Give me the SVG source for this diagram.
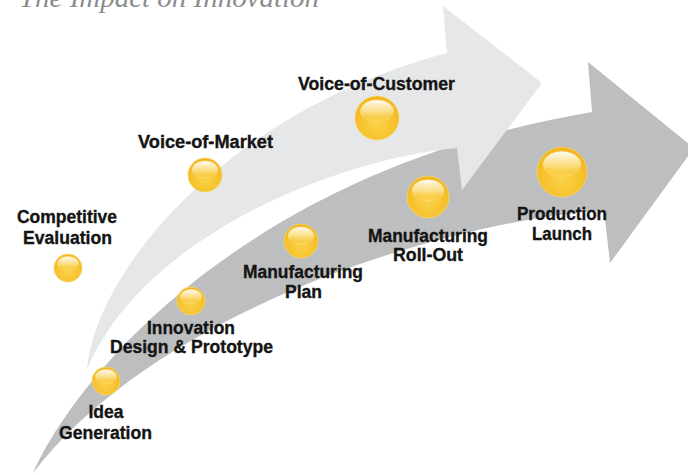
<svg xmlns="http://www.w3.org/2000/svg" width="688" height="475" viewBox="0 0 688 475">
  <defs>
    <radialGradient id="ballFill" cx="0.5" cy="0.62" r="0.6">
      <stop offset="0" stop-color="#fbd24a"/>
      <stop offset="0.7" stop-color="#f6c12c"/>
      <stop offset="1" stop-color="#f0b41e"/>
    </radialGradient>
    <linearGradient id="shine" x1="0" y1="0" x2="0" y2="1">
      <stop offset="0" stop-color="#ffffff" stop-opacity="0.95"/>
      <stop offset="0.55" stop-color="#fce9a6" stop-opacity="0.7"/>
      <stop offset="1" stop-color="#f8c840" stop-opacity="0"/>
    </linearGradient>
    <style>
      .ball { fill: url(#ballFill); stroke: #f9d56a; stroke-width: 0.8; }
      .shine { fill: url(#shine); stroke: #fde7a0; stroke-width: 0.6; stroke-opacity: 0.7; }
      .lbl { font-family: "Liberation Sans Narrow", "Liberation Sans", Arial, sans-serif; font-weight: bold; font-size: 18px; fill: #141414; stroke: #141414; stroke-width: 0.35; text-anchor: middle; }
      .title { font-family: "Liberation Serif", "Times New Roman", serif; font-style: italic; font-size: 28px; fill: #8a8c8e; }
    </style>
  </defs>
  <text class="title" x="19" y="7" textLength="300" lengthAdjust="spacingAndGlyphs">The Impact on Innovation</text>
  <g id="connectors">
    <path id="arrow-dark" fill="#bcbec0" d="M 33 473 C 80 370, 250 170, 592 112 L 588 62 L 694 148 L 610 263 L 604 210 C 420 225, 150 320, 33 473 Z"/>
    <path id="arrow-light" fill="#e6e7e8" d="M 87 370 C 95 270, 230 110, 447 53 L 443 6 L 542 83 L 462 190 L 457 148 C 330 160, 140 240, 87 370 Z"/>
  </g>
  <g id="competitive-evaluation">
    <circle class="ball" cx="68" cy="268" r="14"/>
    <ellipse class="shine" cx="68" cy="263.5" rx="10.5" ry="7"/>
    <text class="lbl" x="67" y="223" textLength="100" lengthAdjust="spacingAndGlyphs">Competitive</text>
    <text class="lbl" x="67.5" y="244" textLength="89" lengthAdjust="spacingAndGlyphs">Evaluation</text>
  </g>
  <g id="voice-of-market">
    <circle class="ball" cx="205" cy="175" r="17"/>
    <ellipse class="shine" cx="205" cy="169.5" rx="12.8" ry="8.5"/>
    <text class="lbl" x="205.5" y="148" textLength="135" lengthAdjust="spacingAndGlyphs">Voice-of-Market</text>
  </g>
  <g id="voice-of-customer">
    <circle class="ball" cx="377" cy="118" r="22"/>
    <ellipse class="shine" cx="377" cy="111" rx="16.5" ry="11"/>
    <text class="lbl" x="376.5" y="90" textLength="157" lengthAdjust="spacingAndGlyphs">Voice-of-Customer</text>
  </g>
  <g id="idea-generation">
    <circle class="ball" cx="106" cy="381" r="14"/>
    <ellipse class="shine" cx="106" cy="376.5" rx="10.5" ry="7"/>
    <text class="lbl" x="106" y="418" textLength="35" lengthAdjust="spacingAndGlyphs">Idea</text>
    <text class="lbl" x="105.5" y="439" textLength="93" lengthAdjust="spacingAndGlyphs">Generation</text>
  </g>
  <g id="innovation-design">
    <circle class="ball" cx="191" cy="301" r="14"/>
    <ellipse class="shine" cx="191" cy="296.5" rx="10.5" ry="7"/>
    <text class="lbl" x="191" y="334" textLength="88" lengthAdjust="spacingAndGlyphs">Innovation</text>
    <text class="lbl" x="191.5" y="353" textLength="163" lengthAdjust="spacingAndGlyphs">Design &amp; Prototype</text>
  </g>
  <g id="manufacturing-plan">
    <circle class="ball" cx="301" cy="241" r="17"/>
    <ellipse class="shine" cx="301" cy="235.5" rx="12.8" ry="8.5"/>
    <text class="lbl" x="303" y="278" textLength="120" lengthAdjust="spacingAndGlyphs">Manufacturing</text>
    <text class="lbl" x="303.5" y="298" textLength="37" lengthAdjust="spacingAndGlyphs">Plan</text>
  </g>
  <g id="manufacturing-rollout">
    <circle class="ball" cx="428" cy="197" r="21"/>
    <ellipse class="shine" cx="428" cy="190.3" rx="15.8" ry="10.5"/>
    <text class="lbl" x="428" y="242" textLength="120" lengthAdjust="spacingAndGlyphs">Manufacturing</text>
    <text class="lbl" x="428" y="261" textLength="70" lengthAdjust="spacingAndGlyphs">Roll-Out</text>
  </g>
  <g id="production-launch">
    <circle class="ball" cx="562" cy="172" r="25"/>
    <ellipse class="shine" cx="562" cy="164" rx="18.8" ry="12.5"/>
    <text class="lbl" x="562" y="220" textLength="90" lengthAdjust="spacingAndGlyphs">Production</text>
    <text class="lbl" x="562" y="240" textLength="60" lengthAdjust="spacingAndGlyphs">Launch</text>
  </g>
</svg>
